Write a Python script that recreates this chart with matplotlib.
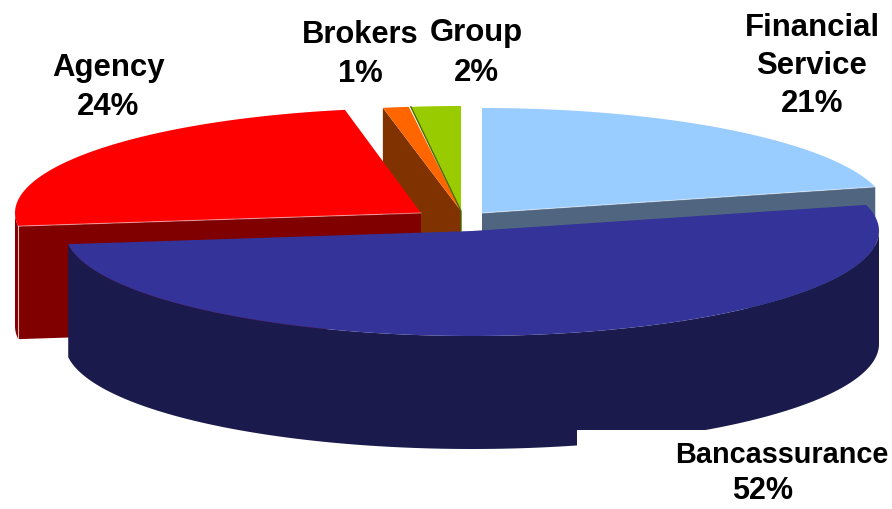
import numpy as np
import matplotlib.pyplot as plt

plt.rcParams['font.family'] = ['Liberation Sans', 'DejaVu Sans']

# Slices, clockwise from 12 o'clock
shares = [21, 52, 24, 1, 2]
top_colors = ['#99CCFF', '#333399', '#FF0000', '#FF6600', '#99CC00']
side_colors = ['#506680', '#1A1A4D', '#800000', '#803300', '#4D6600']

# Explosion: each slice has its own apex (pixels) and a horizontal radius
centers_x = [482, 472, 421, 461, 461]
centers_y = [213, 231, 213, 211, 211]
radius_x = [406, 407, 406, 417, 400]
RADIUS_Y = 105
DEPTH = 113

label_lines = ['Financial', 'Service', '21%', 'Brokers', '1%', 'Group', '2%',
               'Agency', '24%', 'Bancassurance', '52%']
label_x = [812, 812, 812, 360, 360, 476, 476, 108, 108, 782, 763]
label_y = [28, 66, 104, 35, 74, 33, 73, 68, 107, 455, 491]
label_size = [22.4, 22.4, 22.4, 22.2, 22.2, 22.4, 22.4, 22.4, 22.4, 20.8, 22]

stops = np.cumsum([0] + shares) * 3.6


def arc(i, start=None, end=None):
    a0 = stops[i] if start is None else start
    a1 = stops[i + 1] if end is None else end
    t = np.radians(np.linspace(a0, a1, 200))
    return (centers_x[i] + radius_x[i] * np.sin(t),
            centers_y[i] - RADIUS_Y * np.cos(t))


def draw_top(ax, i):
    x, y = arc(i)
    ax.fill(np.r_[centers_x[i], x], np.r_[centers_y[i], y],
            color=top_colors[i], lw=0)


def draw_outer(ax, i, start=None, end=None):
    x, y = arc(i, start, end)
    ax.fill(np.r_[x, x[::-1]], np.r_[y, y[::-1] + DEPTH],
            color=side_colors[i], lw=0)


def draw_cut(ax, i, angle):
    # Flat face from the apex out to the rim at one angle
    x, y = arc(i, angle, angle)
    cx, cy = centers_x[i], centers_y[i]
    ax.fill([cx, x[0], x[0], cx], [cy, y[0], y[0] + DEPTH, cy + DEPTH],
            color=side_colors[i], lw=0)


fig = plt.figure(figsize=(8.92, 5.09), dpi=100)
ax = fig.add_axes([0, 0, 1, 1])
ax.set_xlim(0, 892)
ax.set_ylim(509, 0)
ax.axis('off')

# Back to front
draw_cut(ax, 3, stops[3])
draw_outer(ax, 2, stops[2], 270)
draw_cut(ax, 2, stops[2])
draw_top(ax, 2)
draw_top(ax, 3)
draw_top(ax, 4)

# Thin dark edge of the green slice
gx, gy = arc(4, stops[4], stops[4])
ax.plot([gx[0], centers_x[4], centers_x[4]],
        [gy[0], centers_y[4], centers_y[4] + 20], color=side_colors[4], lw=1)

draw_cut(ax, 0, stops[1])
draw_top(ax, 0)

# Light highlight along the top of the flat faces
for i, angle in [(0, stops[1]), (2, stops[2])]:
    hx, hy = arc(i, angle, angle)
    ax.plot([centers_x[i], hx[0]], [centers_y[i], hy[0]],
            color='white', lw=0.8, alpha=0.45)
lx, ly = arc(2, stops[2], stops[2])
ax.plot([lx[0], lx[0]], [ly[0], ly[0] + DEPTH], color='white', lw=0.8, alpha=0.7)

# Outer wall only from the rightmost point round, so it hides the blue face
draw_outer(ax, 1, 90, stops[2])
draw_top(ax, 1)

# White label box cuts into the bottom of the pie
ax.fill([577, 892, 892, 577], [430, 430, 509, 509], color='white', lw=0)

for text, x, y, size in zip(label_lines, label_x, label_y, label_size):
    ax.text(x, y, text, ha='center', va='center', fontsize=size,
            fontweight='bold', color='black')

fig.savefig('out.png', dpi=100)
